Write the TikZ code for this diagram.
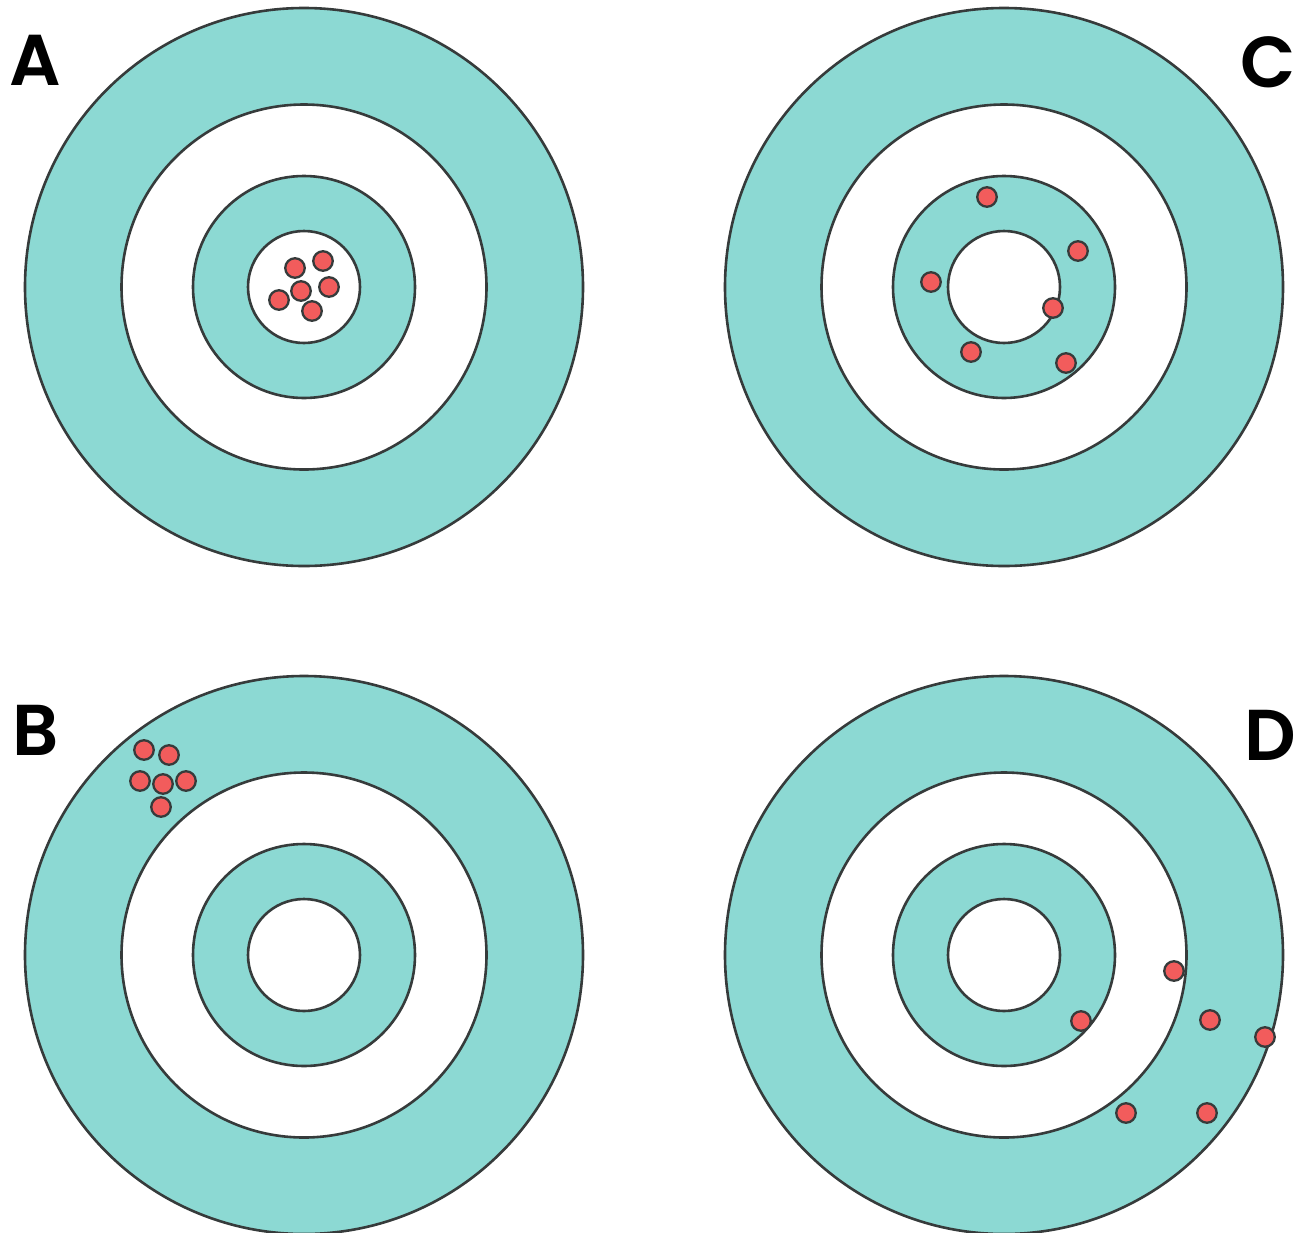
\documentclass[tikz,border=0pt]{standalone}
\usepackage{fontspec}
\newfontfamily\labfont{Poppins}[UprightFont={* SemiBold}]
\definecolor{teal1}{HTML}{8CD9D3}
\definecolor{dotred}{HTML}{F25C5C}
\definecolor{edge}{HTML}{363B3B}
\begin{document}
\begin{tikzpicture}[x=1pt,y=-1pt,
  ring/.style={draw=edge,line width=2.6pt},
  shot/.style={circle,draw=edge,fill=dotred,line width=2.3pt,minimum size=19.5pt,inner sep=0pt},
  lab/.style={font=\labfont\fontsize{72}{72}\selectfont,inner sep=0pt,text=black}]
\useasboundingbox (0,0) rectangle (1296,1232);
\fill[white] (0,0) rectangle (1296,1232);
\begin{scope}
\clip (0,0) rectangle (1296,1232);
\foreach \cx/\cy in {304/287, 1004/287, 304/955, 1004/955}{
  \filldraw[ring,fill=teal1] (\cx,\cy) circle (279);
  \filldraw[ring,fill=white] (\cx,\cy) circle (182.5);
  \filldraw[ring,fill=teal1] (\cx,\cy) circle (111);
  \filldraw[ring,fill=white] (\cx,\cy) circle (56);
}
\end{scope}
% A shots
\node[shot] (a1) at (295,268) {};
\node[shot] (a2) at (323,261) {};
\node[shot] (a3) at (301,291) {};
\node[shot] (a4) at (329,287) {};
\node[shot] (a5) at (279,300) {};
\node[shot] (a6) at (312,311) {};
% C shots
\node[shot] (c1) at (987,197) {};
\node[shot] (c2) at (1078,251) {};
\node[shot] (c3) at (931,282) {};
\node[shot] (c4) at (1053,308) {};
\node[shot] (c5) at (971,352) {};
\node[shot] (c6) at (1066,363) {};
% B shots
\node[shot] (b1) at (144,750) {};
\node[shot] (b2) at (169,755) {};
\node[shot] (b3) at (140,781) {};
\node[shot] (b4) at (163,784) {};
\node[shot] (b5) at (186,781) {};
\node[shot] (b6) at (161,807) {};
% D shots
\node[shot] (d1) at (1174,971) {};
\node[shot] (d2) at (1081,1021) {};
\node[shot] (d3) at (1210,1020) {};
\node[shot] (d4) at (1265,1037) {};
\node[shot] (d5) at (1126,1113) {};
\node[shot] (d6) at (1207,1113) {};
% labels
\node[lab,anchor=base west] (la) at (9,85) {A};
\node[lab,anchor=base west] (lb) at (12,755) {B};
\node[lab,anchor=base east] (lc) at (1296,87) {C};
\node[lab,anchor=base east] (ld) at (1296,760) {D};
\end{tikzpicture}
\end{document}
